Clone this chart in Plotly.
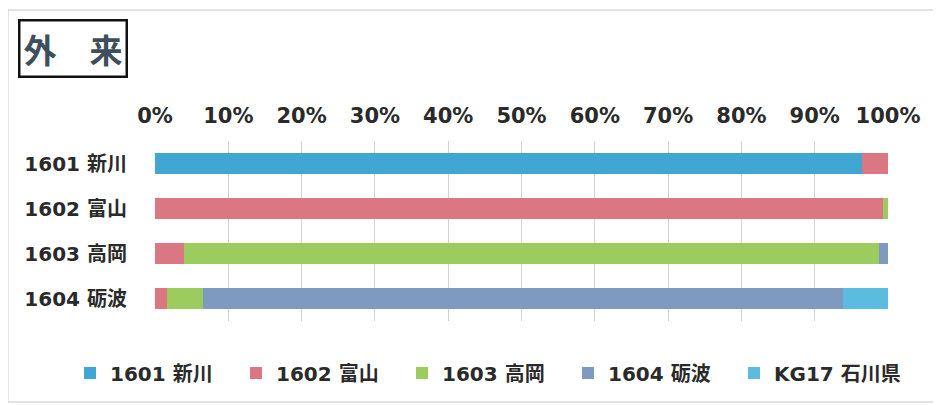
import plotly.graph_objects as go

categories = ["1601 新川", "1602 富山", "1603 高岡", "1604 砺波"]
series_names = ["1601 新川", "1602 富山", "1603 高岡", "1604 砺波", "KG17 石川県"]
s1601 = [96.4, 0, 0, 0]
s1602 = [3.6, 99.3, 4.0, 1.6]
s1603 = [0, 0.7, 94.8, 4.9]
s1604 = [0, 0, 1.2, 87.3]
sKG17 = [0, 0, 0, 6.2]
tick_vals = [0, 10, 20, 30, 40, 50, 60, 70, 80, 90, 100]
tick_text = [f"{v}%" for v in tick_vals]

colors = ["#41A7D2", "#DB7683", "#9CCB5E", "#7E9AC0", "#5CBCDF"]
values = [s1601, s1602, s1603, s1604, sKG17]

FONT = "DejaVu Sans, Noto Sans CJK JP"
fig = go.Figure()
for name, vals, col in zip(series_names, values, colors):
    fig.add_trace(go.Bar(
        y=categories, x=vals, name=name, orientation="h",
        marker=dict(color=col, line=dict(width=0)),
        hoverinfo="x+name",
    ))

# page has an 8px body margin; work in page coordinates shifted by 8
OFF = 8
W, H = 941 - OFF, 405 - OFF
L, R, T, B = 155 - OFF, 933 - (888 - OFF), 141 - OFF, 397 - (321 - OFF)
pw, ph = W - L - R, H - T - B

def px_x(x):
    return (x - OFF - L) / pw

def px_y(y):
    return 1 - (y - OFF - T) / ph

fig.update_layout(
    width=W, height=H,
    barmode="stack", bargap=0.555,
    margin=dict(l=L, r=R, t=T, b=B),
    paper_bgcolor="white", plot_bgcolor="white",
    font=dict(family=FONT, color="#222222"),
    xaxis=dict(
        side="top", range=[0, 100], tickvals=tick_vals, ticktext=tick_text,
        showgrid=True, gridcolor="#D3D3D3", gridwidth=1, zeroline=False,
        tickfont=dict(size=21, family=FONT, color="#2A2A2A", weight="bold"),
        ticks="", showline=False, fixedrange=True, ticklabelstandoff=13,
    ),
    yaxis=dict(
        autorange="reversed", showgrid=False, ticks="", showline=False,
        tickfont=dict(size=20, family=FONT, color="#2A2A2A", weight="bold"),
        ticklabelstandoff=27,
    ),
    legend=dict(
        orientation="h", x=px_x(70), xanchor="left", y=px_y(373), yanchor="middle",
        font=dict(size=20, family=FONT, color="#2A2A2A", weight="bold"),
        itemwidth=30, traceorder="normal",
        entrywidth=121, entrywidthmode="pixels",
    ),
    showlegend=True,
)

fig.add_annotation(
    xref="paper", yref="paper", x=px_x(18), y=px_y(48),
    xanchor="left", yanchor="middle", showarrow=False,
    text="外　来", font=dict(size=33, family="Noto Sans CJK JP", color="#3F4E5C", weight="bold"),
    bordercolor="#111111", borderwidth=2.5, borderpad=3, bgcolor="white",
)

fig.add_shape(
    type="rect", xref="paper", yref="paper",
    x0=px_x(8), x1=px_x(936), y0=px_y(402), y1=px_y(10),
    line=dict(color="#C8C8C8", width=1), layer="below",
)

fig.write_html("out.html")
